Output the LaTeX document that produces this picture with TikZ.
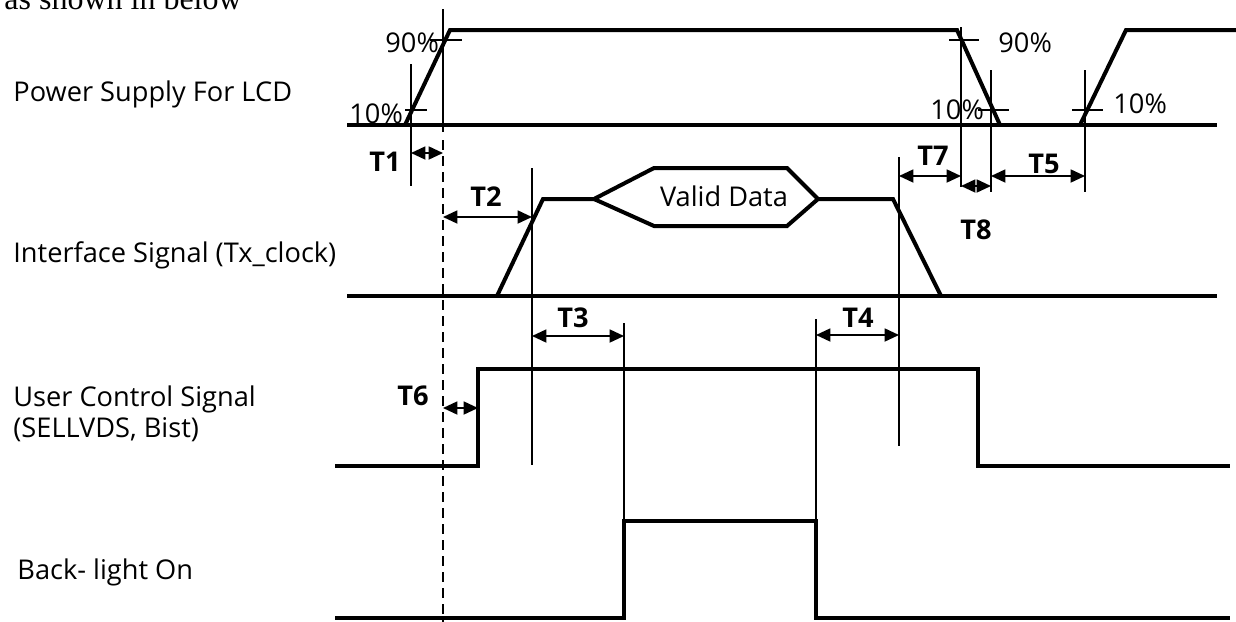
\documentclass[tikz,border=0pt]{standalone}
\usepackage{fontspec}
\setmainfont{Open Sans}
\newfontfamily\notefont{Liberation Serif}
\usetikzlibrary{arrows.meta}

\begin{document}
\begin{tikzpicture}[
    x=0.5pt, y=-0.5pt,
    font=\fontsize{13.6}{15.5}\selectfont,
    sig/.style={line width=2pt},
    guide/.style={line width=0.9pt},
    dim/.style={{Triangle[length=7.2pt,width=6.5pt]}-{Triangle[length=7.2pt,width=6.5pt]}, line width=0.9pt},
    tlabel/.style={font=\fontsize{13.6}{15.5}\selectfont\bfseries, inner sep=0pt},
    pct/.style={inner sep=0pt, anchor=base west},
    rowlabel/.style={inner sep=0pt, anchor=base west, align=left}
]
\useasboundingbox (0,0) rectangle (1236,621);

\node[anchor=base west, inner sep=0pt, font=\notefont\fontsize{16}{18}\selectfont] (note) at (4,10) {as shown in below};

\node[rowlabel] (power) at (13,101) {Power Supply For LCD};
\node[rowlabel] (iface) at (13,262) {Interface Signal (Tx\_clock)};
\node[rowlabel] (user) at (13,406) {User Control Signal};
\node[rowlabel] (user2) at (13,437) {(SELLVDS, Bist)};
\node[rowlabel] (blight) at (17,579) {Back- light On};

% signals
\draw[sig] (347,125) -- (1217,125);
\draw[sig] (405,125) -- (450,30) -- (957,30) -- (1000,125);
\draw[sig] (1080,125) -- (1126,30) -- (1236,30);

\draw[sig] (347,296) -- (1217,296);
\draw[sig] (497,296) -- (543,199) -- (594,199) -- (654,168) -- (787,168) -- (818,199) -- (893,199) -- (941,296);
\draw[sig] (594,199) -- (654,226) -- (787,226) -- (818,199);
\node[inner sep=0pt, anchor=base] (valid) at (724,206) {Valid Data};

\draw[sig] (335,466) -- (478,466) -- (478,369) -- (978,369) -- (978,466) -- (1230,466);
\draw[sig] (335,618) -- (624,618) -- (624,521) -- (816,521) -- (816,618) -- (1230,618);

% guides and ticks
\draw[guide] (443,9) -- (443,132);
\draw[guide, dash pattern=on 5pt off 3pt] (443,140) -- (443,625);
\draw[guide] (411,64) -- (411,186);
\draw[guide] (961,27) -- (961,187);
\draw[guide] (991,70) -- (991,192);
\draw[guide] (1085,70) -- (1085,192);
\draw[guide] (899,157) -- (899,446);
\draw[guide] (532,168) -- (532,465);
\draw[guide] (624,323) -- (624,521);
\draw[guide] (816,319) -- (816,521);

\draw[guide] (430,40) -- (462,40);
\draw[guide] (405,110) -- (427,110);
\draw[guide] (949,40) -- (979,40);
\draw[guide] (978,110) -- (1009,110);
\draw[guide] (1072,110) -- (1103,110);

\node[pct] (p90a) at (385,52) {90\%};
\node[pct] (p10a) at (349,123) {10\%};
\node[pct] (p90b) at (998,52) {90\%};
\node[pct] (p10b) at (930,119) {10\%};
\node[pct] (p10c) at (1113,113) {10\%};

% timing marks
\coordinate (t1a) at (411,153);  \coordinate (t1b) at (443,153);
\coordinate (t2a) at (443,217);  \coordinate (t2b) at (532,217);
\coordinate (t3a) at (532,336);  \coordinate (t3b) at (624,336);
\coordinate (t4a) at (816,335);  \coordinate (t4b) at (899,335);
\coordinate (t5a) at (991,176);  \coordinate (t5b) at (1085,176);
\coordinate (t6a) at (443,408);  \coordinate (t6b) at (478,408);
\coordinate (t7a) at (899,176);  \coordinate (t7b) at (961,176);
\coordinate (t8a) at (961,186);  \coordinate (t8b) at (991,186);

\draw[dim] (t1a) -- (t1b);
\draw[dim] (t2a) -- (t2b);
\draw[dim] (t3a) -- (t3b);
\draw[dim] (t4a) -- (t4b);
\draw[dim] (t5a) -- (t5b);
\draw[dim] (t6a) -- (t6b);
\draw[dim] (t7a) -- (t7b);
\draw[dim] (t8a) -- (t8b);

\node[tlabel] (T1) at (385,162) {T1};
\node[tlabel] (T2) at (486,197) {T2};
\node[tlabel] (T3) at (573,318) {T3};
\node[tlabel] (T4) at (858,318) {T4};
\node[tlabel] (T5) at (1044,164) {T5};
\node[tlabel] (T6) at (413,396) {T6};
\node[tlabel] (T7) at (933,156) {T7};
\node[tlabel] (T8) at (976,230) {T8};
\end{tikzpicture}
\end{document}
